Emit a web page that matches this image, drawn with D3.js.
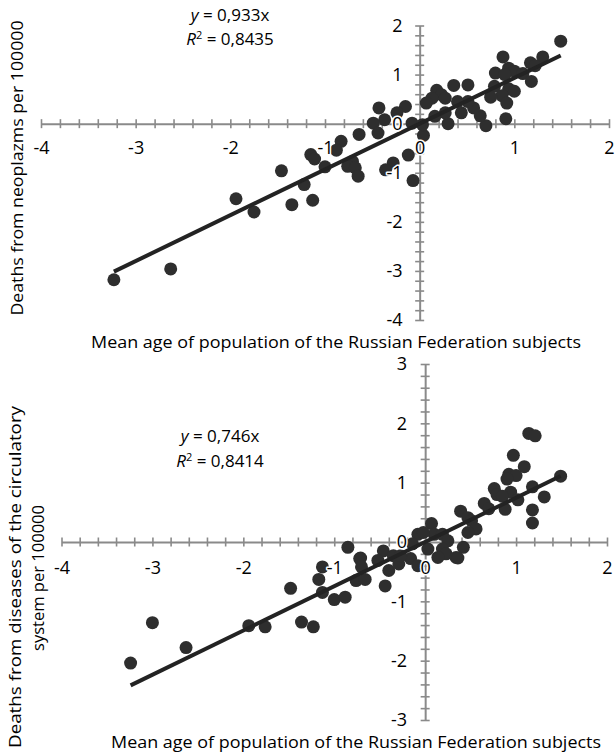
<!DOCTYPE html>
<html>
<head>
<meta charset="utf-8">
<script src="https://cdn.jsdelivr.net/npm/d3@7"></script>
<style>
  body { margin: 0; background: #fff; }
  text { font-family: "Open Sans", sans-serif; fill: #000; }
  .lbl { paint-order: stroke; stroke: #fff; stroke-width: 3px; stroke-linejoin: round; }
</style>
</head>
<body>
<div id="chart"></div>
<script>
const width = 615, height = 752;
const axisColor = "#8a8a8a", dotColor = "#2e2e2e", lineColor = "#232323";

// tick values
const xTicks = [-4, -3, -2, -1, 0, 1, 2];
const neoYTicks = [-4, -3, -2, -1, 0, 1, 2];
const circYTicks = [-3, -2, -1, 0, 1, 2, 3];

// deaths from neoplazms vs mean age (standardised)
const neoX = [1.49, 1.30, 0.88, 1.17, 1.22, 0.94, 1.00, 0.80, 1.09, 0.90, 1.18, 0.79, 0.94, 1.00, 0.87, 0.75,
  0.92, 0.91, 0.70, 0.64, 0.57, 0.51, 0.51, 0.36, 0.40, 0.44, 0.30, 0.27, 0.18, 0.23, 0.27, 0.13, 0.07, 0.16,
  0.04, -0.08, 0.03, -0.12, -0.07, -0.15, -0.24, -0.37, -0.43, -0.49, -0.44, -0.28, -0.36, -0.64, -0.83, -0.88,
  -0.71, -0.76, -0.68, -0.65, -1.00, -1.15, -1.11, -1.22, -1.46, -1.94, -1.13, -1.75, -1.35, -3.23, -2.63];
const neoY = [1.68, 1.36, 1.36, 1.24, 1.18, 1.13, 1.07, 1.03, 1.02, 1.00, 0.86, 0.76, 0.71, 0.66, 0.57, 0.54,
  0.42, 0.10, -0.04, 0.16, 0.32, 0.45, 0.79, 0.78, 0.45, 0.22, 0.00, 0.22, 0.68, 0.59, 0.52, 0.52, 0.42, 0.15,
  -0.24, 0.01, -0.02, -0.64, -1.16, 0.35, 0.22, 0.08, 0.32, 0.01, -0.19, -0.80, -0.94, -0.22, -0.36, -0.54,
  -0.77, -0.87, -0.90, -1.07, -0.88, -0.63, -0.72, -1.24, -0.96, -1.53, -1.56, -1.80, -1.65, -3.18, -2.96];
const neoSlope = 0.933;

// deaths from diseases of the circulatory system vs mean age
const circX = [1.49, 1.14, 1.21, 0.97, 1.09, 0.92, 1.00, 0.90, 1.18, 1.31, 0.76, 0.79, 0.94, 0.85, 1.02, 0.88,
  1.18, 1.18, 0.65, 0.70, 0.39, 0.47, 0.51, 0.56, 0.47, 0.07, 0.10, 0.19, -0.08, -0.02, -0.14, 0.03, 0.25, 0.42,
  0.19, 0.23, 0.34, 0.14, -0.85, -0.46, -0.71, -0.35, -1.13, -0.72, -0.52, -0.40, -0.29, -0.16, -0.08, -0.27,
  0.36, -0.70, -0.76, -0.66, -0.44, -1.17, -1.48, -1.13, -1.00, -0.88, -1.36, -1.23, -1.94, -1.76, -3.00, -2.63, -3.24];
const circY = [1.11, 1.83, 1.79, 1.46, 1.27, 1.14, 1.12, 1.06, 0.93, 0.76, 0.90, 0.80, 0.84, 0.77, 0.71, 0.55,
  0.54, 0.32, 0.65, 0.56, 0.52, 0.41, 0.36, 0.22, 0.16, 0.31, 0.13, 0.13, 0.13, 0.16, -0.03, -0.12, 0.02, -0.09,
  -0.12, -0.20, -0.26, -0.26, -0.09, -0.15, -0.27, -0.23, -0.42, -0.28, -0.31, -0.48, -0.37, -0.28, -0.40, -0.23,
  -0.27, -0.42, -0.65, -0.63, -0.74, -0.63, -0.78, -0.85, -0.97, -0.93, -1.35, -1.43, -1.41, -1.43, -1.36, -1.78, -2.04];
const circSlope = 0.746;

const xTitle = "Mean age of population of the Russian Federation subjects";

const svg = d3.select("#chart")
  .append("svg")
  .attr("width", width)
  .attr("height", height);

const drawPanel = (p) => {
  const x = d3.scaleLinear().domain([-4, 2]).range(p.xRange);
  const y = d3.scaleLinear().domain(p.yDomain).range(p.yRange);
  const g = svg.append("g");

  // minor + major ticks, crossing the axis line
  const xAxis = d3.axisBottom(x).tickValues(d3.range(-4, 2.0001, 0.2)).tickSize(0).tickSizeOuter(0).tickFormat("");
  g.append("g")
    .attr("transform", `translate(0, ${y(0)})`)
    .call(xAxis)
    .call(a => a.select(".domain").attr("stroke", axisColor).attr("stroke-width", 2))
    .call(a => a.selectAll(".tick line").attr("y1", -4.5).attr("y2", 4.5)
      .attr("stroke", axisColor).attr("stroke-width", 1.6));

  const yAxis = d3.axisLeft(y).tickValues(d3.range(p.yDomain[0], p.yDomain[1] + 0.0001, 0.2))
    .tickSize(0).tickSizeOuter(0).tickFormat("");
  g.append("g")
    .attr("transform", `translate(${x(0)}, 0)`)
    .call(yAxis)
    .call(a => a.select(".domain").attr("stroke", axisColor).attr("stroke-width", 2))
    .call(a => a.selectAll(".tick line").attr("x1", -4.5).attr("x2", 4.5)
      .attr("stroke", axisColor).attr("stroke-width", 1.6));

  // dots
  g.append("g")
    .selectAll("circle")
    .data(d3.zip(p.xs, p.ys))
    .join("circle")
    .attr("cx", d => x(d[0]))
    .attr("cy", d => y(d[1]))
    .attr("r", 6.5)
    .attr("fill", dotColor);

  // trend line through origin
  const ext = d3.extent(p.xs);
  g.append("path")
    .datum(ext)
    .attr("d", d3.line().x(d => x(d)).y(d => y(p.slope * d)))
    .attr("stroke", lineColor)
    .attr("stroke-width", 4)
    .attr("fill", "none");

  // tick labels on top
  g.append("g")
    .attr("transform", `translate(0, ${y(0)})`)
    .call(d3.axisBottom(x).tickValues(xTicks).tickSize(0).tickPadding(p.xPad).tickFormat(d => String(d)))
    .call(a => a.select(".domain").remove())
    .call(a => a.selectAll("text").attr("class", "lbl").attr("font-size", 18)
      .attr("font-family", "Open Sans, sans-serif").attr("fill", "#000"));

  g.append("g")
    .attr("transform", `translate(${x(0)}, 0)`)
    .call(d3.axisLeft(y).tickValues(p.yTicks).tickSize(0).tickPadding(p.yPad).tickFormat(d => String(d)))
    .call(a => a.select(".domain").remove())
    .call(a => a.selectAll("text").attr("class", "lbl").attr("font-size", 18)
      .attr("font-family", "Open Sans, sans-serif").attr("fill", "#000"));

  // equation
  const eq1 = g.append("text").attr("x", p.eqX).attr("y", p.eqY[0]).attr("text-anchor", "middle").attr("font-size", 17);
  eq1.append("tspan").attr("font-style", "italic").text("y");
  eq1.append("tspan").text(` = ${p.eqText[0]}`);
  const eq2 = g.append("text").attr("x", p.eqX).attr("y", p.eqY[1]).attr("text-anchor", "middle").attr("font-size", 17);
  eq2.append("tspan").attr("font-style", "italic").text("R");
  eq2.append("tspan").attr("font-size", 11).attr("dy", -6).text("2");
  eq2.append("tspan").attr("dy", 6).text(` = ${p.eqText[1]}`);

  // axis titles
  g.append("text")
    .text(xTitle)
    .attr("x", p.xTitlePos[0])
    .attr("y", p.xTitlePos[1])
    .attr("text-anchor", "middle")
    .attr("font-size", 17)
    .attr("textLength", 490)
    .attr("lengthAdjust", "spacingAndGlyphs");

  p.yTitle.forEach(t => {
    g.append("text")
      .text(t.text)
      .attr("transform", `translate(${t.x}, ${t.y}) rotate(-90)`)
      .attr("text-anchor", "middle")
      .attr("font-size", 17)
      .attr("textLength", t.len)
      .attr("lengthAdjust", "spacingAndGlyphs");
  });
};

drawPanel({
  xs: neoX, ys: neoY, slope: neoSlope,
  xRange: [41, 609], yDomain: [-4, 2], yRange: [320, 25.5], yTicks: neoYTicks,
  xPad: 18, yPad: 17,
  eqX: 230, eqY: [21, 45], eqText: ["0,933x", "0,8435"],
  xTitlePos: [336, 348],
  yTitle: [{ text: "Deaths from neoplazms per 100000", x: 23, y: 168, len: 295 }]
});

drawPanel({
  xs: circX, ys: circY, slope: circSlope,
  xRange: [61.5, 607], yDomain: [-3, 3], yRange: [720, 364], yTicks: circYTicks,
  xPad: 19, yPad: 18,
  eqX: 220, eqY: [442, 467], eqText: ["0,746x", "0,8414"],
  xTitlePos: [356, 748],
  yTitle: [
    { text: "Deaths from diseases of the circulatory", x: 21, y: 577, len: 342 },
    { text: "system per 100000", x: 44, y: 578, len: 146 }
  ]
});
</script>
</body>
</html>
